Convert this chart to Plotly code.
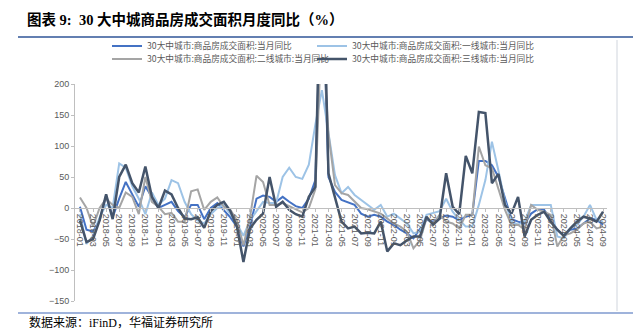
import plotly.graph_objects as go

W, H = 633, 330
PL, PR, PT, PB = 75, 607, 84, 301  # plot area pixels

months = [f"{y}-{m:02d}" for y in range(2018, 2025) for m in range(1, 13)][:81]
tick_labels = months[::2]

total = [2, -35, -38, -20, 20, -15, 15, 42, 22, 2, 35, 18, 0, 5, 10, -5, -15, 5, 5, -18,
         0, 8, -3, -15, -30, -62, -30, 15, 20, 18, 10, 18, 10, 3, 0, 15, 45, 400, 50, 26,
         13, 9, 5, -9, -14, -11, -14, -22, -27, -35, -41, -49, -35, -19, -22, -17, -12, -14, -20, -14,
         -11, 76, 76, 69, 50, 16, -18, -22, -25, -9, -2, -3, -19, -35, -44, -35, -33, -25, -17, -19,
         -27]
tier1 = [-10, -58, -45, -15, 5, 0, 72, 65, 35, 15, -10, 25, 5, 15, 45, 40, 10, -10, -20, -25,
         -10, 0, 5, -10, -25, -45, -20, -5, 10, 8, 8, 50, 65, 50, 47, 70, 135, 190, 120, 53,
         24, 34, 21, 13, 5, -3, 5, -14, -9, -17, -25, -41, -38, -11, -8, -5, 15, -6, -19, -30,
         -30, 5, 45, 107, 60, 10, -22, -27, -22, 5, 5, 5, 5, -46, -49, -33, -27, -14, 5, -19,
         -22]
tier2 = [17, 0, -30, 0, 15, 5, 0, 25, 18, -10, 50, 10, 2, -10, -8, -22, -22, 27, 30, -3,
         10, 17, 2, -3, -20, -60, -15, 52, 42, 5, 5, 8, 3, -2, -7, 0, 30, 300, 120, 37,
         24, 21, 10, 0, -2, -6, -9, -17, -25, -30, -38, -65, -52, -17, -25, -11, -22, -25, -33, -11,
         -11, 99, 69, 64, 29, -3, -28, -27, -35, 5, -3, -6, -11, -62, -44, -41, -35, -25, -22, -33,
         -30]
tier3 = [-20, -55, -50, -20, 22, -18, 50, 70, 40, 25, 67, 18, 0, 28, 22, 0, -17, -18, -15, -32,
         -5, 5, 10, -5, -30, -87, -33, -19, -9, 50, 2, 10, -3, -10, -14, 18, 34, 480, 56, 15,
         -22, -33, -30, -41, -40, -41, -22, -70, -57, -60, -52, -46, -46, -14, -27, -17, 56, 2, -10, 84,
         56, 155, 153, 40, 55, 5, -9, 18, -46, -19, -11, -6, -22, -35, -45, -33, -22, -14, -17, -22,
         -6]

names = ["30大中城市:商品房成交面积:当月同比",
         "30大中城市:商品房成交面积:一线城市:当月同比",
         "30大中城市:商品房成交面积:二线城市:当月同比",
         "30大中城市:商品房成交面积:三线城市:当月同比"]
colors = ["#4472C4", "#9DC3E6", "#A5A5A5", "#44546A"]
widths = [2, 2, 2, 2.5]
legends = ["legend", "legend2", "legend3", "legend4"]
# legend placement in pixels (left edge, vertical centre)
legend_pos = [(107, 46), (312, 46), (107, 59), (312, 59)]


def px_x(p):
    return (p - PL) / (PR - PL)


def px_y(p):
    return (PB - p) / (PB - PT)


fig = go.Figure()
for name, vals, c, w, lg in zip(names, [total, tier1, tier2, tier3], colors, widths, legends):
    fig.add_trace(go.Scatter(x=months, y=vals, mode="lines", name=name,
                             line=dict(color=c, width=w), legend=lg))

legend_common = dict(orientation="h", xanchor="left", yanchor="middle",
                     font=dict(family="Noto Sans CJK SC", size=8.7, color="#595959"),
                     itemwidth=30, bgcolor="rgba(0,0,0,0)")
legend_layout = {lg: dict(x=px_x(px), y=px_y(py), **legend_common)
                 for lg, (px, py) in zip(legends, legend_pos)}

fig.update_layout(
    width=W, height=H,
    margin=dict(l=PL, r=W - PR, t=PT, b=H - PB, pad=0),
    paper_bgcolor="white", plot_bgcolor="white",
    showlegend=True,
    **legend_layout,
    title=dict(text="<b>图表 9:  30 大中城商品房成交面积月度同比（%）</b>",
               x=27 / W, xref="container", xanchor="left",
               y=1 - 20 / H, yref="container", yanchor="middle",
               font=dict(family="Liberation Serif, Noto Sans CJK SC", size=14.5, color="black")),
    xaxis=dict(type="category", categoryorder="array", categoryarray=months,
               range=[-0.76, 80.6], anchor="free", position=150 / 350,
               showline=True, linecolor="#BFBFBF", linewidth=1,
               tickmode="array", tickvals=tick_labels, ticktext=tick_labels,
               tickangle=90, ticks="outside", ticklen=3, tickcolor="#BFBFBF",
               tickfont=dict(family="Liberation Sans, Arial", size=9, color="#595959"),
               showgrid=False, zeroline=False),
    yaxis=dict(range=[-150, 200], dtick=50, tick0=0,
               showline=True, linecolor="#BFBFBF", linewidth=1,
               ticks="outside", ticklen=3, tickcolor="#BFBFBF",
               tickfont=dict(family="Liberation Sans, Arial", size=9, color="#595959"),
               showgrid=False, zeroline=False),
    shapes=[
        dict(type="line", xref="paper", yref="paper", x0=px_x(18), x1=px_x(633),
             y0=px_y(37), y1=px_y(37), line=dict(color="#2F5597", width=1.5)),
        dict(type="line", xref="paper", yref="paper", x0=px_x(18), x1=px_x(633),
             y0=px_y(313), y1=px_y(313), line=dict(color="#7F9ACF", width=1.5)),
        dict(type="line", xref="paper", yref="paper", x0=px_x(617), x1=px_x(617),
             y0=px_y(40), y1=px_y(311), line=dict(color="#D0D5DD", width=1)),
    ],
    annotations=[
        dict(text="数据来源：iFinD，华福证券研究所", xref="paper", yref="paper",
             x=px_x(27), y=px_y(322), xanchor="left", yanchor="middle", showarrow=False,
             font=dict(family="Liberation Serif, Noto Sans CJK SC", size=12, color="black")),
    ],
)

fig.write_html("out.html")
